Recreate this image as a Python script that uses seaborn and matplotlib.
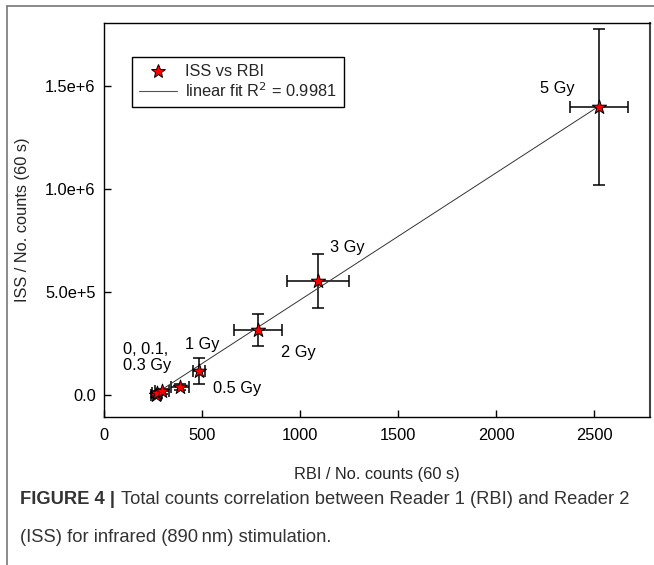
import matplotlib
matplotlib.use("Agg")
import matplotlib.pyplot as plt
import seaborn as sns
import numpy as np
import pandas as pd
from matplotlib.lines import Line2D

# ---- data ----
dose_labels = ["0", "0.1", "0.3", "0.5", "1", "2", "3", "5"]
rbi_counts = [265, 270, 296, 388, 485, 786, 1092, 2526]
rbi_err = [25, 25, 35, 48, 31, 122, 158, 148]
iss_counts = [0.0, 1.0e4, 1.9e4, 3.9e4, 1.17e5, 3.16e5, 5.53e5, 1.398e6]
iss_err = [8e3, 8e3, 1.2e4, 1.5e4, 6.2e4, 7.8e4, 1.31e5, 3.8e5]
fit_slope = 617.0
fit_intercept = -1.56e5
r_squared = "0.9981"

x_ticks = [0, 500, 1000, 1500, 2000, 2500]
y_ticks = [0.0, 5.0e5, 1.0e6, 1.5e6]
y_tick_labels = ["0.0", "5.0e+5", "1.0e+6", "1.5e+6"]

point_texts = ["5 Gy", "3 Gy", "2 Gy", "1 Gy", "0.5 Gy", "0, 0.1,\n0.3 Gy"]
text_pos = [(2311, 1.490e6, "center"), (1240, 7.18e5, "center"), (990, 2.04e5, "center"),
            (500, 2.43e5, "center"), (679, 2.9e4, "center"), (97, 1.8e5, "left")]

df = pd.DataFrame({"RBI": rbi_counts, "ISS": iss_counts,
                   "xerr": rbi_err, "yerr": iss_err, "dose": dose_labels})

sns.set_style("white")
plt.rcParams["font.family"] = ["Liberation Sans", "DejaVu Sans"]

W, H = 654, 565
fig = plt.figure(figsize=(W / 100, H / 100), dpi=100)
ax = fig.add_axes([104 / W, 1 - 417 / H, (650 - 104) / W, (417 - 23) / H])

fs = 11.8
ax.errorbar(df["RBI"], df["ISS"], xerr=df["xerr"], yerr=df["yerr"], fmt="none",
            ecolor="black", elinewidth=1.1, capsize=4, capthick=1.1, zorder=2)

fit_x = np.array([df["RBI"].min(), df["RBI"].max()])
fit_df = pd.DataFrame({"x": fit_x, "y": fit_slope * fit_x + fit_intercept})
sns.lineplot(data=fit_df, x="x", y="y", ax=ax, color="#333333", linewidth=0.7, zorder=3)

sns.scatterplot(data=df, x="RBI", y="ISS", ax=ax, marker="*", s=115, color="red",
                edgecolor="black", linewidth=0.7, zorder=4)

for t, (tx, ty, ha) in zip(point_texts, text_pos):
    ax.text(tx, ty, t, ha=ha, va="center", fontsize=fs, color="black", linespacing=1.1)

ax.set_xlim(0, 2786)
ax.set_ylim(-1.07e5, 1.806e6)
ax.set_xticks(x_ticks)
ax.set_yticks(y_ticks)
ax.set_yticklabels(y_tick_labels)
ax.tick_params(direction="in", length=5, width=1, colors="black", labelsize=fs,
               bottom=True, left=True, top=False, right=False)
ax.tick_params(axis="x", pad=8)
ax.tick_params(axis="y", pad=6)
for sp in ax.spines.values():
    sp.set_color("black")
    sp.set_linewidth(1.0)
ax.spines["right"].set_color("#444444")
ax.spines["right"].set_linewidth(1.5)

ax.set_xlabel("RBI / No. counts (60 s)", fontsize=fs)
ax.set_ylabel("ISS / No. counts (60 s)", fontsize=fs)
ax.xaxis.set_label_coords(0.5, -0.127)
ax.yaxis.set_label_coords(-0.1355, 0.5)

handles = [Line2D([], [], marker="*", linestyle="none", markersize=10,
                  markerfacecolor="red", markeredgecolor="black", markeredgewidth=0.7),
           Line2D([], [], color="#555555", linewidth=0.8)]
leg = ax.legend(handles, ["ISS vs RBI", "linear fit R$^2$ = " + r_squared],
                loc="upper left", bbox_to_anchor=((132 - 104) / 546, (417 - 57) / 394),
                fontsize=fs, frameon=True, fancybox=False, edgecolor="black",
                framealpha=1, borderpad=0.45, handlelength=2.3, labelspacing=0.1,
                handletextpad=0.5, borderaxespad=0)
leg.get_frame().set_linewidth(1.0)

# page frame lines
fig.add_artist(Line2D([7 / W, 1], [1 - 6 / H, 1 - 6 / H], color="#777777", linewidth=1.2))
fig.add_artist(Line2D([7 / W, 7 / W], [0, 1 - 6 / H], color="#777777", linewidth=1.2))

# caption
cap_family = ["Liberation Sans", "DejaVu Sans"]
cap_fs = 13.2
fig.text(20 / W, 1 - 499 / H, "FIGURE 4 |", fontsize=cap_fs, fontweight="bold",
         color="#333333", va="center", ha="left", family=cap_family)
fig.text(121 / W, 1 - 499 / H, "Total counts correlation between Reader 1 (RBI) and Reader 2",
         fontsize=cap_fs, color="#333333", va="center", ha="left", family=cap_family)
fig.text(20 / W, 1 - 537 / H, "(ISS) for infrared (890\u2009nm) stimulation.",
         fontsize=cap_fs, color="#333333", va="center", ha="left", family=cap_family)

fig.savefig("out.png", dpi=100)
